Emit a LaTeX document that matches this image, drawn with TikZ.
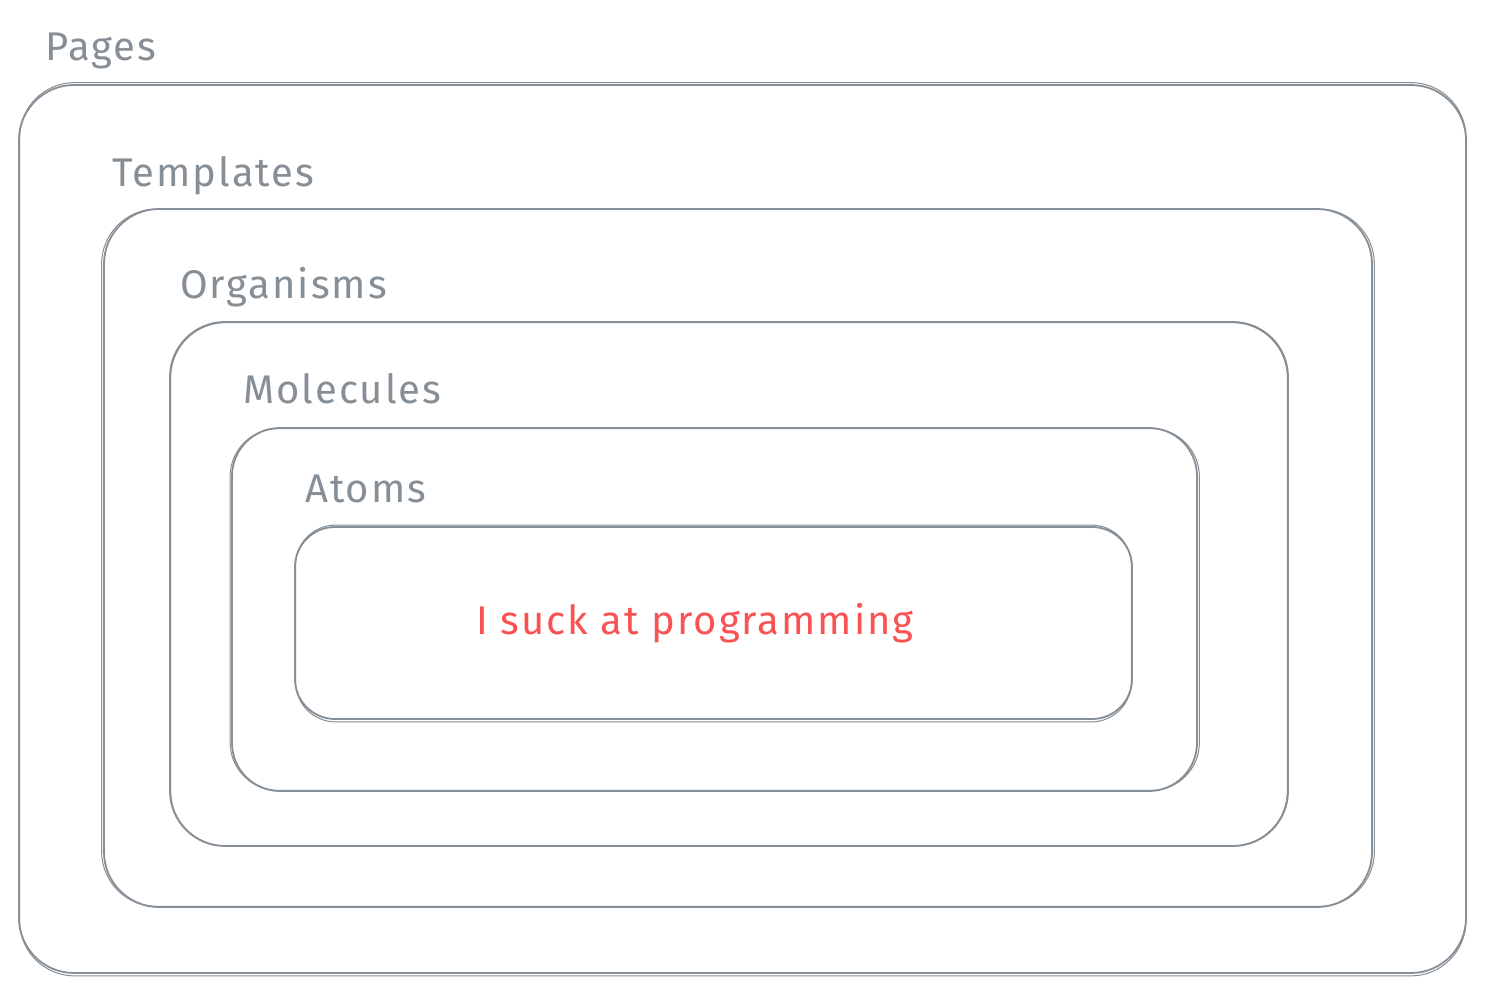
\documentclass[tikz,border=0pt]{standalone}
\usepackage{fontspec}
\setmainfont{Fira Sans}[LetterSpace=5.0]
\definecolor{exgray}{HTML}{868E96}
\definecolor{exred}{HTML}{FA5252}
\tikzset{
  frame/.style={draw=exgray, line width=1.8pt, rounded corners=#1, inner sep=0pt, fill=none},
  frame/.default=55pt,
  sketch/.style={draw=exgray, line width=1pt, rounded corners=#1},
  sketch/.default=55pt,
  lbl/.style={text=exgray, anchor=base west, inner sep=0pt, font=\fontsize{40}{44}\selectfont},
  red/.style={text=exred, anchor=base, inner sep=0pt, font=\fontsize{40}{44}\selectfont}
}
\begin{document}
\begin{tikzpicture}[x=1pt,y=-1pt]
\useasboundingbox[fill=white] (0,0) rectangle (1486,993);
% boxes
\node[frame, minimum width=1447pt, minimum height=888pt] (b1) at (742.5,529) {};
\node[frame, minimum width=1268pt, minimum height=698pt] (b2) at (738,558) {};
\node[frame, minimum width=1118pt, minimum height=524pt] (b3) at (729,584) {};
\node[frame=48pt, minimum width=965pt, minimum height=363pt] (b4) at (714.5,609.5) {};
\node[frame=40pt, minimum width=837pt, minimum height=192pt] (b5) at (713.5,623) {};
% second sketchy strokes
\draw[sketch] ([shift={(1.5,-1.5)}]b1.north west) rectangle ([shift={(-1,2)}]b1.south east);
\draw[sketch] ([shift={(-1.5,1)}]b2.north west) rectangle ([shift={(1.5,-1.5)}]b2.south east);
\draw[sketch] ([shift={(1.5,1.5)}]b3.north west) rectangle ([shift={(-1.5,-1)}]b3.south east);
\draw[sketch=48pt] ([shift={(-1,1.5)}]b4.north west) rectangle ([shift={(1.5,-1.5)}]b4.south east);
\draw[sketch=40pt] ([shift={(1.5,-1)}]b5.north west) rectangle ([shift={(-1.5,2)}]b5.south east);
% labels
\node[lbl] (pages) at (45,60) {Pages};
\node[lbl] (templates) at (112,186) {Templates};
\node[lbl] (organisms) at (180,298) {Organisms};
\node[lbl] (molecules) at (243,403) {Molecules};
\node[lbl] (atoms) at (305,502) {Atoms};
\node[red] (txt) at (695,634) {I suck at programming};
\end{tikzpicture}
\end{document}
